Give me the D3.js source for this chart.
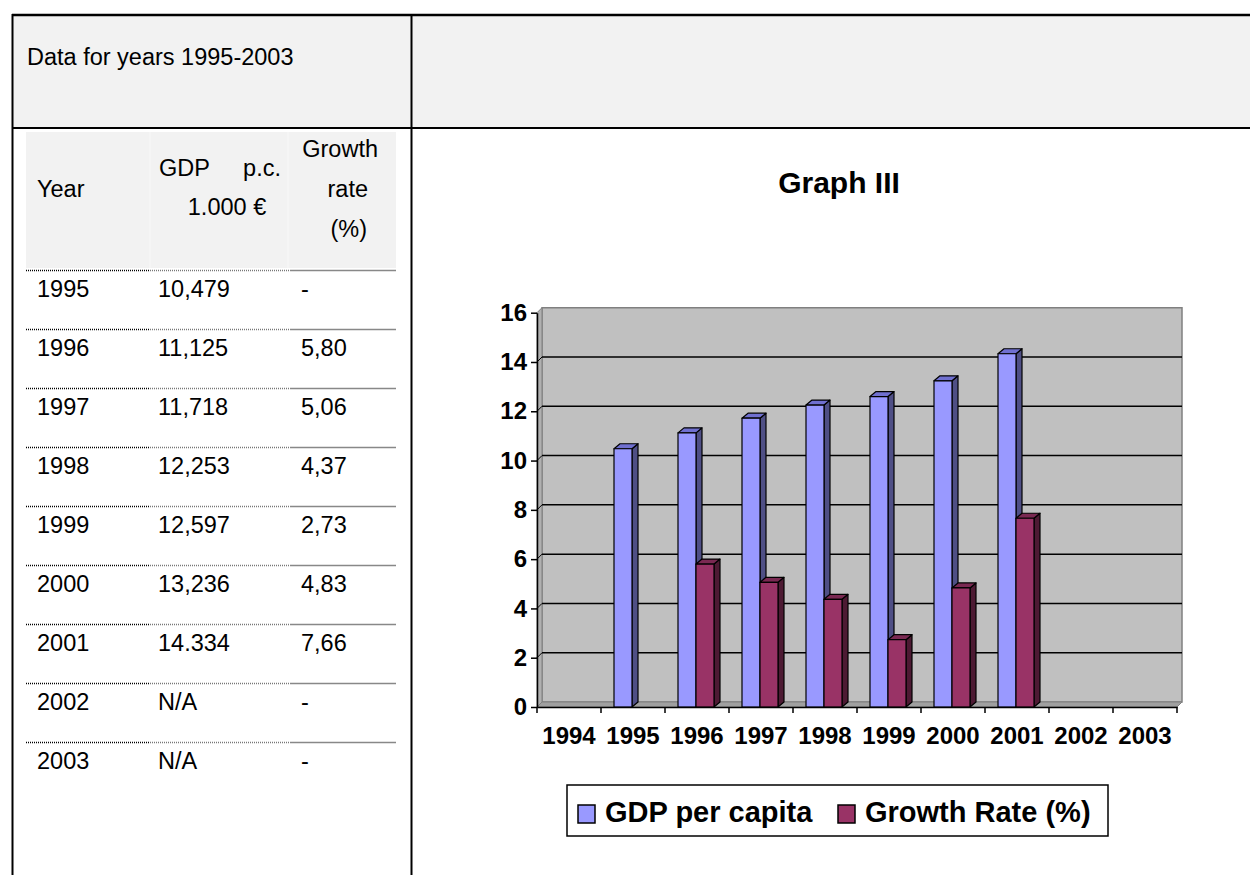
<!DOCTYPE html>
<html>
<head>
<meta charset="utf-8">
<script src="https://cdn.jsdelivr.net/npm/d3@7/dist/d3.min.js"></script>
<style>
  body { margin: 0; background: #fff; }
  svg text { font-family: "Liberation Sans", Arial, sans-serif; }
</style>
</head>
<body>
<div class="layout"></div>
<script>
// chart data
var years = [1994, 1995, 1996, 1997, 1998, 1999, 2000, 2001, 2002, 2003];
var gdpValues = [null, 10.479, 11.125, 11.718, 12.253, 12.597, 13.236, 14.334, null, null];
var growthValues = [null, null, 5.80, 5.06, 4.37, 2.73, 4.83, 7.66, null, null];
var yTicks = [0, 2, 4, 6, 8, 10, 12, 14, 16];
var seriesNames = ["GDP per capita", "Growth Rate (%)"];

// table data
var tableYears = ["1995", "1996", "1997", "1998", "1999", "2000", "2001", "2002", "2003"];
var gdpLabels = ["10,479", "11,125", "11,718", "12,253", "12,597", "13,236", "14.334", "N/A", "N/A"];
var growthLabels = ["-", "5,80", "5,06", "4,37", "2,73", "4,83", "7,66", "-", "-"];

(function() {
    var svg = d3.select(".layout").append("svg").attr("width", 1250).attr("height", 875);

    // ---- page table ----
    svg.append("rect").attr("x", 13).attr("y", 15).attr("width", 1240).attr("height", 113).attr("fill", "#f2f2f2");
    svg.append("line").attr("x1", 12).attr("x2", 1250).attr("y1", 15).attr("y2", 15).attr("stroke", "#000").attr("stroke-width", 2.5);
    svg.append("line").attr("x1", 12).attr("x2", 1250).attr("y1", 128).attr("y2", 128).attr("stroke", "#000").attr("stroke-width", 2);
    svg.append("line").attr("x1", 12.5).attr("x2", 12.5).attr("y1", 14).attr("y2", 875).attr("stroke", "#000").attr("stroke-width", 2);
    svg.append("line").attr("x1", 411.5).attr("x2", 411.5).attr("y1", 14).attr("y2", 875).attr("stroke", "#000").attr("stroke-width", 2);

    svg.append("text").text("Data for years 1995-2003").attr("x", 27).attr("y", 65).attr("font-size", 23.5);

    // header of the data table
    svg.append("rect").attr("x", 26).attr("y", 132).attr("width", 370).attr("height", 136).attr("fill", "#f2f2f2");
    svg.append("line").attr("x1", 150).attr("x2", 150).attr("y1", 132).attr("y2", 268).attr("stroke", "#f8f8f8").attr("stroke-width", 1);
    svg.append("line").attr("x1", 288).attr("x2", 288).attr("y1", 132).attr("y2", 268).attr("stroke", "#f8f8f8").attr("stroke-width", 1);

    var head = svg.append("g").attr("font-size", 23.5);
    head.append("text").text("Year").attr("x", 37).attr("y", 197);
    head.append("text").text("GDP").attr("x", 159).attr("y", 176);
    head.append("text").text("p.c.").attr("x", 281).attr("y", 176).attr("text-anchor", "end");
    head.append("text").text("1.000 €").attr("x", 227).attr("y", 215).attr("text-anchor", "middle");
    head.append("text").text("Growth").attr("x", 378).attr("y", 157).attr("text-anchor", "end");
    head.append("text").text("rate").attr("x", 368).attr("y", 197).attr("text-anchor", "end");
    head.append("text").text("(%)").attr("x", 367).attr("y", 237).attr("text-anchor", "end");

    // rows
    var rowTop = 270, rowH = 59;
    var rows = svg.append("g").attr("font-size", 23.5);
    for (var i = 0; i < tableYears.length; i++) {
        var ly = rowTop + rowH * i + 0.5;
        rows.append("line").attr("x1", 26).attr("x2", 150).attr("y1", ly).attr("y2", ly)
            .attr("stroke", "#000").attr("stroke-width", 1.5).attr("stroke-dasharray", "1,1");
        rows.append("line").attr("x1", 150).attr("x2", 290).attr("y1", ly).attr("y2", ly)
            .attr("stroke", "#777").attr("stroke-width", 1.5).attr("stroke-dasharray", "1,1");
        rows.append("line").attr("x1", 290).attr("x2", 396).attr("y1", ly).attr("y2", ly)
            .attr("stroke", "#888").attr("stroke-width", 1.5);
        var by = rowTop + rowH * i + 27;
        rows.append("text").text(tableYears[i]).attr("x", 37).attr("y", by);
        rows.append("text").text(gdpLabels[i]).attr("x", 158).attr("y", by);
        rows.append("text").text(growthLabels[i]).attr("x", 301).attr("y", by);
    }

    // ---- Graph III ----
    svg.append("text").text("Graph III").attr("x", 839).attr("y", 193)
        .attr("text-anchor", "middle").attr("font-size", 30).attr("font-weight", "bold");

    var plotLeft = 537, plotRight = 1177, plotTop = 312.7, plotBottom = 707;
    var dx = 5, dy = -5;       // depth of the walls
    var bdx = 6, bdy = -5;     // depth of a bar

    var x = d3.scaleBand().domain(years).range([plotLeft, plotRight]).paddingInner(0).paddingOuter(0);
    var xs = d3.scaleBand().domain(["gdp", "growth"]).range([13, 49]);
    var y = d3.scaleLinear().domain([0, 16]).range([plotBottom, plotTop]);

    // walls
    svg.append("polygon")
        .attr("points", [[plotLeft + dx, y(16) + dy], [plotRight + dx, y(16) + dy], [plotRight + dx, y(0) + dy], [plotLeft + dx, y(0) + dy]].join(" "))
        .attr("fill", "#c0c0c0").attr("stroke", "#808080").attr("stroke-width", 1.5);
    svg.append("polygon")
        .attr("points", [[plotLeft, y(16)], [plotLeft + dx, y(16) + dy], [plotLeft + dx, y(0) + dy], [plotLeft, y(0)]].join(" "))
        .attr("fill", "#b0b0b0").attr("stroke", "#808080").attr("stroke-width", 1);
    svg.append("polygon")
        .attr("points", [[plotLeft, y(0)], [plotLeft + dx, y(0) + dy], [plotRight + dx, y(0) + dy], [plotRight, y(0)]].join(" "))
        .attr("fill", "#a0a0a0").attr("stroke", "#808080").attr("stroke-width", 1);

    // gridlines
    yTicks.forEach(function(t) {
        if (t === 0 || t === 16) return;
        svg.append("line").attr("x1", plotLeft + dx).attr("x2", plotRight + dx)
            .attr("y1", y(t) + dy).attr("y2", y(t) + dy)
            .attr("stroke", "#000").attr("stroke-width", 1.5);
        svg.append("line").attr("x1", plotLeft).attr("x2", plotLeft + dx)
            .attr("y1", y(t)).attr("y2", y(t) + dy)
            .attr("stroke", "#000").attr("stroke-width", 1);
    });

    // bars
    function drawBar(xPos, w, v, front, side, topc) {
        var y0 = y(0), y1 = y(v);
        var g = svg.append("g").attr("stroke", "#000").attr("stroke-width", 1.2).attr("stroke-linejoin", "round");
        g.append("polygon").attr("points", [[xPos + w, y1], [xPos + w + bdx, y1 + bdy], [xPos + w + bdx, y0 + bdy], [xPos + w, y0]].join(" ")).attr("fill", side);
        g.append("polygon").attr("points", [[xPos, y1], [xPos + bdx, y1 + bdy], [xPos + w + bdx, y1 + bdy], [xPos + w, y1]].join(" ")).attr("fill", topc);
        g.append("rect").attr("x", xPos).attr("y", y1).attr("width", w).attr("height", y0 - y1).attr("fill", front);
    }
    years.forEach(function(yr, i) {
        if (gdpValues[i] != null)
            drawBar(x(yr) + xs("gdp"), xs.bandwidth(), gdpValues[i], "#9999ff", "#4f4f85", "#7070d0");
        if (growthValues[i] != null)
            drawBar(x(yr) + xs("growth"), xs.bandwidth(), growthValues[i], "#993366", "#4d1a33", "#7a2952");
    });

    // axes
    var yAxis = svg.append("g").attr("transform", "translate(" + plotLeft + ",0)")
        .call(d3.axisLeft(y).tickValues(yTicks).tickSize(6).tickSizeOuter(0).tickPadding(4));
    yAxis.select(".domain").attr("stroke-width", 1.5);
    yAxis.selectAll(".tick line").attr("stroke-width", 1.5);
    yAxis.selectAll("text").attr("font-size", 24).attr("font-weight", "bold").attr("fill", "#000")
        .attr("font-family", "'Liberation Sans', Arial, sans-serif");

    var xAxis = svg.append("g").attr("transform", "translate(0," + plotBottom + ")")
        .call(d3.axisBottom(x).tickSize(0).tickSizeOuter(0).tickPadding(20));
    xAxis.select(".domain").attr("stroke-width", 1.5);
    xAxis.selectAll("text").attr("font-size", 24).attr("font-weight", "bold").attr("fill", "#000")
        .attr("font-family", "'Liberation Sans', Arial, sans-serif");
    // ticks on the category boundaries
    years.concat(["end"]).forEach(function(yr) {
        var tx = yr === "end" ? plotRight : x(yr);
        xAxis.append("line").attr("x1", tx).attr("x2", tx).attr("y1", 0).attr("y2", 6)
            .attr("stroke", "#000").attr("stroke-width", 1.5);
    });

    // legend
    var legend = svg.append("g");
    legend.append("rect").attr("x", 567).attr("y", 785).attr("width", 541).attr("height", 51)
        .attr("fill", "#fff").attr("stroke", "#000").attr("stroke-width", 1.5);
    var legendColors = ["#9999ff", "#993366"];
    var legendX = [578, 838];
    seriesNames.forEach(function(name, i) {
        legend.append("rect").attr("x", legendX[i]).attr("y", 805).attr("width", 17).attr("height", 18)
            .attr("fill", legendColors[i]).attr("stroke", "#000").attr("stroke-width", 1.5);
        legend.append("text").text(name).attr("x", legendX[i] + 27).attr("y", 822)
            .attr("font-size", 29).attr("font-weight", "bold");
    });
})();
</script>
</body>
</html>
